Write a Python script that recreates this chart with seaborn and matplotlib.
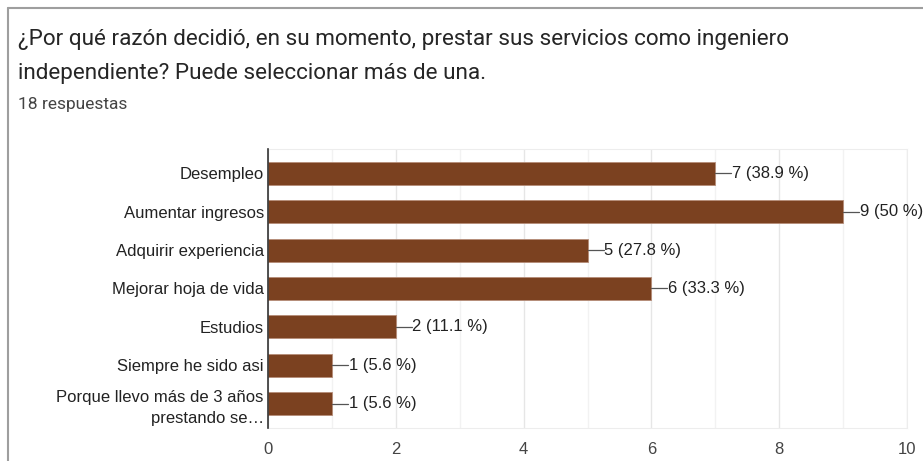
import matplotlib
matplotlib.use("Agg")
import matplotlib.pyplot as plt
import seaborn as sns
import pandas as pd
from matplotlib.lines import Line2D

# Data
categories = [
    "Desempleo",
    "Aumentar ingresos",
    "Adquirir experiencia",
    "Mejorar hoja de vida",
    "Estudios",
    "Siempre he sido asi",
    "Porque llevo más de 3 años\nprestando se…",
]
counts = [7, 9, 5, 6, 2, 1, 1]
percents = ["38.9", "50", "27.8", "33.3", "11.1", "5.6", "5.6"]
x_ticks = [0, 2, 4, 6, 8, 10]

df = pd.DataFrame({"Razon": categories, "Respuestas": counts})

sns.set_style("white")
plt.rcParams["font.family"] = ["Liberation Sans", "DejaVu Sans"]

fig = plt.figure(figsize=(9.23, 4.61), dpi=100)
ax = fig.add_axes([0.2904, 0.0716, 0.6923, 0.6052])

bar_color = "#7b4120"
sns.barplot(data=df, x="Respuestas", y="Razon", orient="h", color=bar_color,
            saturation=1, width=0.6, edgecolor="#b58c78", linewidth=0.6,
            ax=ax, zorder=3)

ax.set_xlim(0, 10)
ax.set_xticks(x_ticks)
ax.set_xticks(range(1, 10, 2), minor=True)
ax.grid(axis="x", which="major", color="#e6e6e6", linewidth=1, zorder=0)
ax.grid(axis="x", which="minor", color="#f2f2f2", linewidth=1, zorder=0)
ax.set_xlabel("")
ax.set_ylabel("")
ax.tick_params(axis="both", length=0, labelsize=12, colors="#222222")
ax.tick_params(axis="x", pad=10, labelcolor="#444444")
ax.tick_params(axis="y", pad=3)
for lbl in ax.get_yticklabels():
    lbl.set_linespacing(1.45)

for name in ["top", "right", "bottom"]:
    ax.spines[name].set_color("#ededed")
ax.spines["left"].set_color("#333333")
ax.spines["left"].set_linewidth(1.2)
ax.spines["left"].set_zorder(4)

# value labels with short leader lines
for i, (c, p) in enumerate(zip(counts, percents)):
    ax.plot([c, c + 0.25], [i, i], color="#555555", linewidth=0.9, zorder=4)
    ax.text(c + 0.26, i, f"{c} ({p} %)", va="center", ha="left",
            fontsize=12, color="#222222")

# card border
fig.add_artist(Line2D([8 / 923, 1], [1 - 8 / 461] * 2, color="#9e9e9e", linewidth=1.5))
fig.add_artist(Line2D([8 / 923] * 2, [0, 1 - 8 / 461], color="#9e9e9e", linewidth=1.5))

fig.text(18 / 923, 1 - 40 / 461,
         "¿Por qué razón decidió, en su momento, prestar sus servicios como ingeniero",
         fontsize=16.2, color="#262626", va="center", family=["Roboto", "DejaVu Sans"])
fig.text(18 / 923, 1 - 73 / 461,
         "independiente? Puede seleccionar más de una.",
         fontsize=16.2, color="#262626", va="center", family=["Roboto", "DejaVu Sans"])
fig.text(18 / 923, 1 - 105 / 461, "18 respuestas",
         fontsize=12.5, color="#444444", va="center", family=["Roboto", "DejaVu Sans"])

fig.savefig("out.png", dpi=100)
